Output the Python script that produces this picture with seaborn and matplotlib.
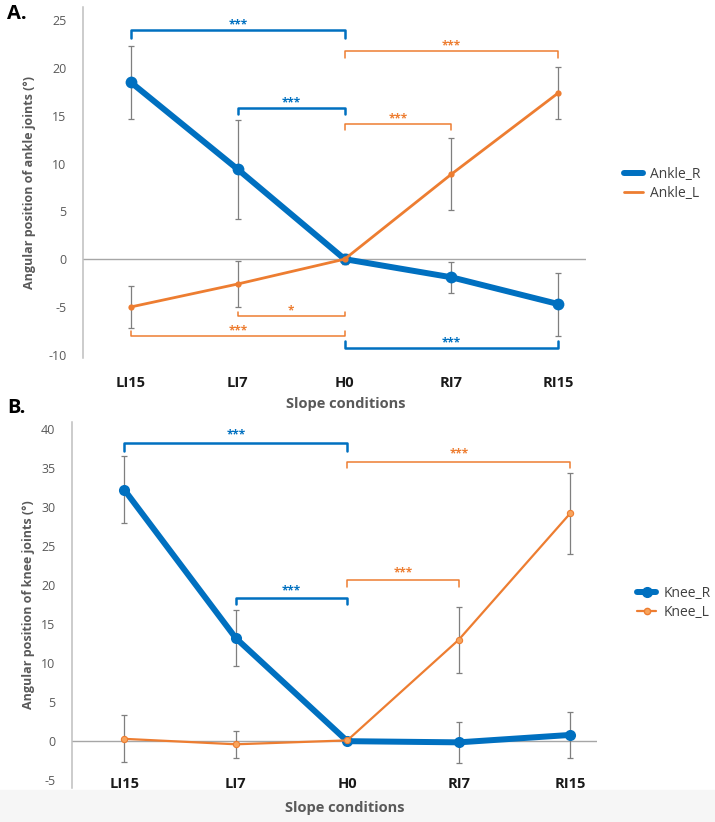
import numpy as np
import pandas as pd
import matplotlib
matplotlib.use('Agg')
import matplotlib.pyplot as plt
import seaborn as sns
from matplotlib.lines import Line2D
from matplotlib.patches import Rectangle

# slope conditions on x axis
slopes = ['LI15', 'LI7', 'H0', 'RI7', 'RI15']

# panel A - ankle angles (mean, sd)
ankle_r = [18.5, 9.4, 0.0, -1.9, -4.7]
ankle_r_err = [3.8, 5.2, 0.5, 1.6, 3.3]
ankle_l = [-5.0, -2.6, 0.0, 8.9, 17.4]
ankle_l_err = [2.2, 2.4, 0.5, 3.8, 2.7]

# panel B - knee angles (mean, sd)
knee_r = [32.2, 13.2, 0.0, -0.15, 0.8]
knee_r_err = [4.3, 3.6, 0.3, 2.6, 3.0]
knee_l = [0.3, -0.4, 0.1, 13.0, 29.2]
knee_l_err = [3.0, 1.7, 0.3, 4.2, 5.2]

# significance brackets: (from, to, bar level, tip level, side, label)
ankle_sig = [(0, 2, 24.0, 23.2, 'R', '***'), (1, 2, 15.8, 15.2, 'R', '***'),
             (2, 4, 21.8, 21.1, 'L', '***'), (2, 3, 14.2, 13.5, 'L', '***'),
             (1, 2, -6.0, -5.5, 'L', '*'), (0, 2, -8.0, -7.5, 'L', '***'),
             (2, 4, -9.3, -8.6, 'R', '***')]
knee_sig = [(0, 2, 38.2, 37.2, 'R', '***'), (1, 2, 18.3, 17.6, 'R', '***'),
            (2, 4, 35.8, 35.0, 'L', '***'), (2, 3, 20.6, 19.8, 'L', '***')]

BLUE = '#0070C0'
ORANGE = '#ED7D31'
GRAY = '#595959'

sns.set_theme(style='white')
plt.rcParams['font.family'] = ['Open Sans', 'DejaVu Sans']
plt.rcParams['axes.unicode_minus'] = False

fig = plt.figure(figsize=(7.15, 8.22), dpi=100)
fig.patches.append(Rectangle((0, 0), 1, 32 / 822, transform=fig.transFigure,
                             color='#f6f6f6', zorder=-5))

W, H = 715, 822
axA = fig.add_axes([83 / W, 1 - 358 / H, 503 / W, 351 / H])
axB = fig.add_axes([72 / W, 1 - 788 / H, 525 / W, 366 / H])
axA.patch.set_alpha(0)
axB.patch.set_alpha(0)


def draw_panel(ax, r, r_err, l, l_err, r_style, l_style):
    pos = np.arange(len(slopes))
    ax.axhline(0, color='#a6a6a6', lw=1.0, zorder=1)
    for vals, errs in [(r, r_err), (l, l_err)]:
        ax.errorbar(pos, vals, yerr=errs, fmt='none', ecolor='#7f7f7f',
                    elinewidth=0.9, capsize=2.2, capthick=0.9, zorder=2)
    df = pd.DataFrame({'slope': slopes, 'R': r, 'L': l})
    sns.lineplot(data=df, x='slope', y='R', ax=ax, sort=False, color=BLUE,
                 marker='o', markeredgewidth=0, zorder=3, **r_style)
    sns.lineplot(data=df, x='slope', y='L', ax=ax, sort=False, color=ORANGE,
                 marker='o', zorder=4, **l_style)
    for s in ['top', 'right', 'bottom']:
        ax.spines[s].set_visible(False)
    ax.spines['left'].set_color('#bfbfbf')
    ax.spines['left'].set_linewidth(1.1)
    ax.set_xlabel('')
    ax.set_ylabel('')
    ax.tick_params(axis='y', length=0, pad=12, labelsize=9, labelcolor=GRAY)
    ax.tick_params(axis='x', length=0, labelsize=10.5, labelcolor='#1a1a1a')
    for t in ax.get_xticklabels():
        t.set_fontweight('bold')


def draw_brackets(ax, sig, blue_lw, orange_lw, off):
    for x0, x1, yb, yt, side, lab in sig:
        c = BLUE if side == 'R' else ORANGE
        lw = blue_lw if side == 'R' else orange_lw
        ax.plot([x0, x0, x1, x1], [yt, yb, yb, yt], color=c, lw=lw,
                solid_joinstyle='round', zorder=5)
        ax.annotate(lab, xy=((x0 + x1) / 2, yb), xytext=(0, off),
                    textcoords='offset points', ha='center', va='bottom',
                    color=c, fontsize=8.5, fontweight='bold')


# ---- panel A
draw_panel(axA, ankle_r, ankle_r_err, ankle_l, ankle_l_err,
           dict(lw=4.3, markersize=8.5), dict(lw=2.0, markersize=4.5, markeredgewidth=0))
axA.set_xlim(-0.45, 4.26)
axA.set_ylim(-10.35, 26.4)
axA.set_yticks(range(-10, 26, 5))
axA.tick_params(axis='x', pad=13)
draw_brackets(axA, ankle_sig, 1.8, 1.1, -1)
axA.set_ylabel('Angular position of ankle joints (°)', fontsize=9,
               fontweight='bold', color=GRAY)
axA.yaxis.set_label_coords(-0.093, 0.5)
axA.text(0.522, -0.131, 'Slope conditions', transform=axA.transAxes,
         ha='center', va='center', fontsize=10.5, fontweight='bold', color=GRAY)
axA.legend(handles=[Line2D([], [], color=BLUE, lw=4.3, solid_capstyle='round'),
                    Line2D([], [], color=ORANGE, lw=2.0)],
           labels=['Ankle_R', 'Ankle_L'], loc='center left',
           bbox_to_anchor=(1.05, 0.496), frameon=False, fontsize=10,
           handlelength=1.4, handletextpad=0.5, labelspacing=0.3,
           labelcolor='#404040')

# ---- panel B
draw_panel(axB, knee_r, knee_r_err, knee_l, knee_l_err,
           dict(lw=4.3, markersize=8), dict(lw=1.6, markersize=4.5,
                                             markerfacecolor='#F8A45C',
                                             markeredgecolor=ORANGE,
                                             markeredgewidth=0.8))
axB.set_xlim(-0.47, 4.24)
axB.set_ylim(-6.0, 40.9)
axB.set_yticks(range(-5, 41, 5))
axB.tick_params(axis='x', pad=-8)
draw_brackets(axB, knee_sig, 1.8, 1.1, 1)
axB.set_ylabel('Angular position of knee joints (°)', fontsize=9,
               fontweight='bold', color=GRAY)
axB.yaxis.set_label_coords(-0.07, 0.5)
axB.text(0.52, -0.055, 'Slope conditions', transform=axB.transAxes,
         ha='center', va='center', fontsize=10.5, fontweight='bold', color=GRAY,
         zorder=10)
axB.legend(handles=[Line2D([], [], color=BLUE, lw=4.3, marker='o', markersize=7),
                    Line2D([], [], color=ORANGE, lw=1.6, marker='o', markersize=4.5,
                           markerfacecolor='#F8A45C')],
           labels=['Knee_R', 'Knee_L'], loc='center left',
           bbox_to_anchor=(1.052, 0.505), frameon=False, fontsize=10,
           handlelength=1.4, handletextpad=0.5, labelspacing=0.3,
           labelcolor='#404040')

fig.text(17 / W, 1 - 14 / H, 'A.', fontsize=14.5, fontweight='bold',
         ha='center', va='center', color='black')
fig.text(16 / W, 1 - 408 / H, 'B.', fontsize=14.5, fontweight='bold',
         ha='center', va='center', color='black')

fig.savefig('out.png', dpi=100)
